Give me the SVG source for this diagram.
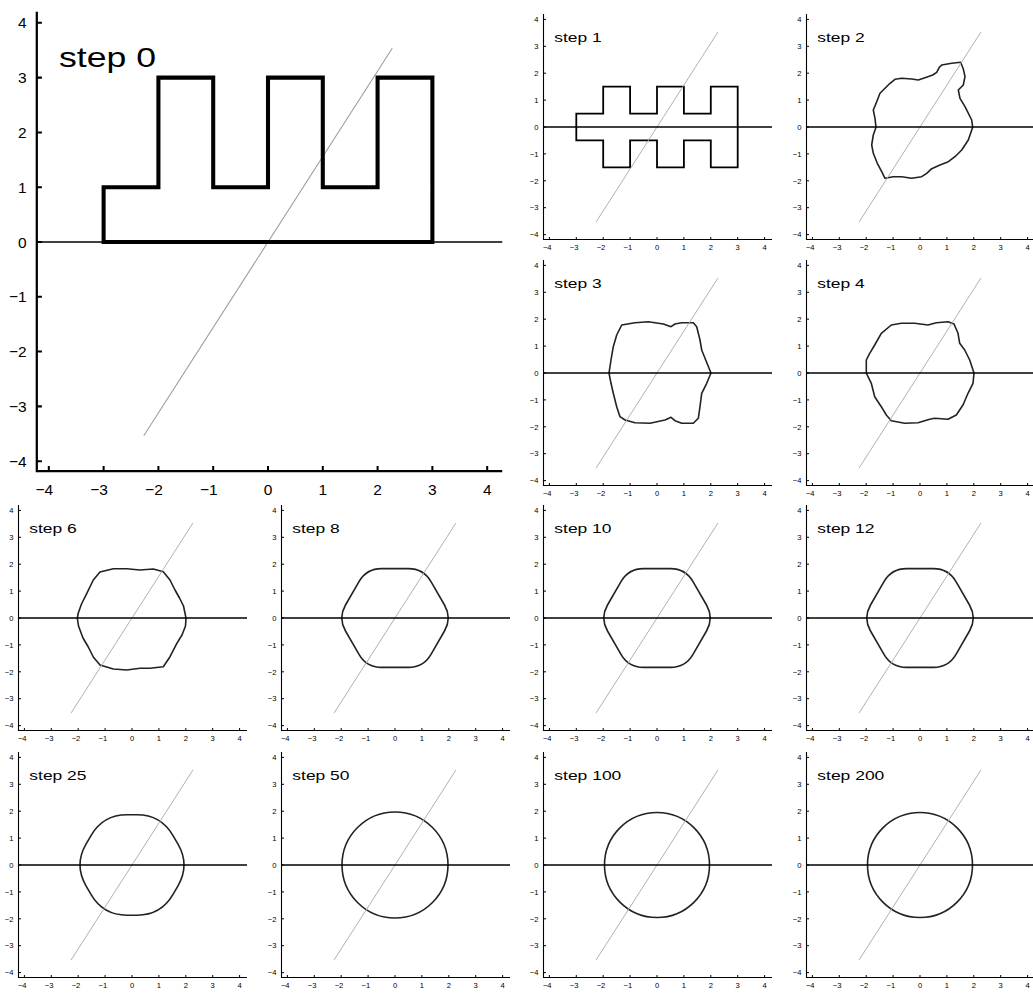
<svg xmlns="http://www.w3.org/2000/svg" xmlns:xlink="http://www.w3.org/1999/xlink" width="1033" height="994" viewBox="0 0 1033 994">
<style>
.ax{fill:none;stroke:#000;stroke-width:1.1}
.tk{fill:none;stroke:#000;stroke-width:1}
.hl{stroke:#000;stroke-width:1.6}
.dg{stroke:#a8a8a8;stroke-width:0.9}
.hlb{stroke:#000;stroke-width:0.65}
.dgb{stroke:#999;stroke-width:0.5}
.sh{fill:none;stroke:#222;stroke-width:1.6;stroke-linejoin:round}
.sq{fill:none;stroke:#000;stroke-width:1.8;stroke-linejoin:miter}
.sqb{fill:none;stroke:#000;stroke-width:2;stroke-linejoin:miter}
.yl,.xl,.lab{font-family:"Liberation Sans",Arial,sans-serif;fill:#000}
.yl{font-size:7.6px;text-anchor:end}
.xl{font-size:7.6px;text-anchor:middle}
.lab{font-size:13.5px}
</style>
<defs>
<g id="axes">
<path class="ax" d="M-113.5,-113V112.5H115"/>
<path class="tk" d="M-113.5,-107.6h2.5M-113.5,-80.7h2.5M-113.5,-53.8h2.5M-113.5,-26.9h2.5M-113.5,0h2.5M-113.5,26.9h2.5M-113.5,53.8h2.5M-113.5,80.7h2.5M-113.5,107.6h2.5M-107.6,112.5v-2.5M-80.7,112.5v-2.5M-53.8,112.5v-2.5M-26.9,112.5v-2.5M0,112.5v-2.5M26.9,112.5v-2.5M53.8,112.5v-2.5M80.7,112.5v-2.5M107.6,112.5v-2.5"/>
</g>
<g id="refl">
<line class="dg" x1="-61" y1="95.1" x2="61" y2="-95.1"/>
<line class="hl" x1="-113.5" y1="0" x2="115" y2="0"/>
</g>
<path id="hex" d="M49.5,13Q57,0 49.5,-13L36,-36.4Q28.5,-49.4 13.5,-49.4L-13.5,-49.4Q-28.5,-49.4 -36,-36.4L-49.5,-13Q-57,0 -49.5,13L-36,36.4Q-28.5,49.4 -13.5,49.4L13.5,49.4Q28.5,49.4 36,36.4Z"/>
</defs>

<g id="step0" transform="translate(268,242) scale(2.037)">
<use href="#axes"/>
<text class="yl"><tspan x="-118.5" y="-104.9">4</tspan><tspan x="-118.5" y="-78">3</tspan><tspan x="-118.5" y="-51.1">2</tspan><tspan x="-118.5" y="-24.2">1</tspan><tspan x="-118.5" y="2.7">0</tspan><tspan x="-118.5" y="29.6">−1</tspan><tspan x="-118.5" y="56.5">−2</tspan><tspan x="-118.5" y="83.4">−3</tspan><tspan x="-118.5" y="110.3">−4</tspan></text>
<text class="xl" y="124"><tspan x="-109.8">−4</tspan><tspan x="-82.9">−3</tspan><tspan x="-56">−2</tspan><tspan x="-29.1">−1</tspan><tspan x="0">0</tspan><tspan x="26.9">1</tspan><tspan x="53.8">2</tspan><tspan x="80.7">3</tspan><tspan x="107.6">4</tspan></text>
<text class="lab" x="-102.6" y="-85.9" textLength="47.6" lengthAdjust="spacingAndGlyphs">step 0</text>
<line class="dgb" x1="-61" y1="95.1" x2="61" y2="-95.1"/>
<line class="hlb" x1="-113.5" y1="0" x2="115" y2="0"/>
<path class="sqb" d="M-80.7,0V-26.9H-53.8V-80.7H-26.9V-26.9H0V-80.7H26.9V-26.9H53.8V-80.7H80.7V0Z"/>
</g>

<g id="step1" transform="translate(657,127)">
<use href="#axes"/>
<text class="yl"><tspan x="-118.5" y="-104.9">4</tspan><tspan x="-118.5" y="-78">3</tspan><tspan x="-118.5" y="-51.1">2</tspan><tspan x="-118.5" y="-24.2">1</tspan><tspan x="-118.5" y="2.7">0</tspan><tspan x="-118.5" y="29.6">−1</tspan><tspan x="-118.5" y="56.5">−2</tspan><tspan x="-118.5" y="83.4">−3</tspan><tspan x="-118.5" y="110.3">−4</tspan></text>
<text class="xl" y="123"><tspan x="-109.8">−4</tspan><tspan x="-82.9">−3</tspan><tspan x="-56">−2</tspan><tspan x="-29.1">−1</tspan><tspan x="0">0</tspan><tspan x="26.9">1</tspan><tspan x="53.8">2</tspan><tspan x="80.7">3</tspan><tspan x="107.6">4</tspan></text>
<text class="lab" x="-102.7" y="-85.3" textLength="47.4" lengthAdjust="spacingAndGlyphs">step 1</text>
<path class="sq" d="M-80.7,-13.45H-53.8V-40.35H-26.9V-13.45H0V-40.35H26.9V-13.45H53.8V-40.35H80.7V40.35H53.8V13.45H26.9V40.35H0V13.45H-26.9V40.35H-53.8V13.45H-80.7Z"/>
<use href="#refl"/>
</g>

<g id="step2" transform="translate(920,127)">
<use href="#axes"/>
<text class="yl"><tspan x="-118.5" y="-104.9">4</tspan><tspan x="-118.5" y="-78">3</tspan><tspan x="-118.5" y="-51.1">2</tspan><tspan x="-118.5" y="-24.2">1</tspan><tspan x="-118.5" y="2.7">0</tspan><tspan x="-118.5" y="29.6">−1</tspan><tspan x="-118.5" y="56.5">−2</tspan><tspan x="-118.5" y="83.4">−3</tspan><tspan x="-118.5" y="110.3">−4</tspan></text>
<text class="xl" y="123"><tspan x="-109.8">−4</tspan><tspan x="-82.9">−3</tspan><tspan x="-56">−2</tspan><tspan x="-29.1">−1</tspan><tspan x="0">0</tspan><tspan x="26.9">1</tspan><tspan x="53.8">2</tspan><tspan x="80.7">3</tspan><tspan x="107.6">4</tspan></text>
<text class="lab" x="-102.7" y="-85.3" textLength="47.4" lengthAdjust="spacingAndGlyphs">step 2</text>
<polygon class="sh" points="40.7,-64.7 31.7,-63.7 21.7,-62 19.3,-59.7 16.7,-54.7 12.7,-52 5,-49.3 -1.7,-47 -8.3,-48 -18.3,-48.7 -25,-47.7 -30,-43.7 -35,-38.7 -40,-33.7 -43.3,-25.3 -46.7,-17 -45,-8.7 -44,0.3 -46.7,8 -48.3,18 -46.7,26.3 -42.7,36.3 -38.3,44.7 -35,51.3 -26.7,49.7 -18.3,49.7 -8.3,51.3 1.7,49.7 6.7,46.3 11.7,41.7 20,38 28.3,34.7 35,29.7 41.7,23 48.3,13 52.7,0.3 51.7,-7 45,-20.3 40,-28.7 38.3,-37 43.3,-42 45,-50.3 43.3,-58"/>
<use href="#refl"/>
</g>

<g id="step3" transform="translate(657,373)">
<use href="#axes"/>
<text class="yl"><tspan x="-118.5" y="-104.9">4</tspan><tspan x="-118.5" y="-78">3</tspan><tspan x="-118.5" y="-51.1">2</tspan><tspan x="-118.5" y="-24.2">1</tspan><tspan x="-118.5" y="2.7">0</tspan><tspan x="-118.5" y="29.6">−1</tspan><tspan x="-118.5" y="56.5">−2</tspan><tspan x="-118.5" y="83.4">−3</tspan><tspan x="-118.5" y="110.3">−4</tspan></text>
<text class="xl" y="123"><tspan x="-109.8">−4</tspan><tspan x="-82.9">−3</tspan><tspan x="-56">−2</tspan><tspan x="-29.1">−1</tspan><tspan x="0">0</tspan><tspan x="26.9">1</tspan><tspan x="53.8">2</tspan><tspan x="80.7">3</tspan><tspan x="107.6">4</tspan></text>
<text class="lab" x="-102.7" y="-85.3" textLength="47.4" lengthAdjust="spacingAndGlyphs">step 3</text>
<polygon class="sh" points="-35.3,-48 -22,-50.3 -8.7,-51.3 6.3,-49 14,-46.3 18,-49 24.7,-50.3 36.3,-50.3 39.7,-46.3 43,-33 44.7,-23 48.7,-13 54,0 49.7,10.3 44.7,20.3 43,33.7 41.3,45.3 36.3,50.3 24.7,50.3 18,47.7 14,44.3 8,47 -7,50.3 -22,49.7 -32,47 -37,43.7 -40.3,33.7 -43.7,20.3 -46,10.3 -48,0 -46,-13 -43.7,-26.3 -40.3,-38"/>
<use href="#refl"/>
</g>

<g id="step4" transform="translate(920,373)">
<use href="#axes"/>
<text class="yl"><tspan x="-118.5" y="-104.9">4</tspan><tspan x="-118.5" y="-78">3</tspan><tspan x="-118.5" y="-51.1">2</tspan><tspan x="-118.5" y="-24.2">1</tspan><tspan x="-118.5" y="2.7">0</tspan><tspan x="-118.5" y="29.6">−1</tspan><tspan x="-118.5" y="56.5">−2</tspan><tspan x="-118.5" y="83.4">−3</tspan><tspan x="-118.5" y="110.3">−4</tspan></text>
<text class="xl" y="123"><tspan x="-109.8">−4</tspan><tspan x="-82.9">−3</tspan><tspan x="-56">−2</tspan><tspan x="-29.1">−1</tspan><tspan x="0">0</tspan><tspan x="26.9">1</tspan><tspan x="53.8">2</tspan><tspan x="80.7">3</tspan><tspan x="107.6">4</tspan></text>
<text class="lab" x="-102.7" y="-85.3" textLength="47.4" lengthAdjust="spacingAndGlyphs">step 4</text>
<polygon class="sh" points="-28.7,-48 -18.7,-49.7 -5.3,-49.7 8,-48 16.3,-50.3 28,-51.3 34,-49 38,-39.7 39.7,-29.7 44.7,-23 49.7,-13 54,0 53,10.3 48,20.3 43,32 36.3,42 28,46.3 14.7,45.3 9.7,46.3 -2,49.7 -15.3,50.3 -28.7,47.7 -33.7,42 -38.7,33.7 -45.3,23.7 -48.7,10.3 -53.7,0 -53.7,-13 -50.3,-19.7 -45.3,-28 -38.7,-39.7"/>
<use href="#refl"/>
</g>

<g id="step6" transform="translate(132,618)">
<use href="#axes"/>
<text class="yl"><tspan x="-118.5" y="-104.9">4</tspan><tspan x="-118.5" y="-78">3</tspan><tspan x="-118.5" y="-51.1">2</tspan><tspan x="-118.5" y="-24.2">1</tspan><tspan x="-118.5" y="2.7">0</tspan><tspan x="-118.5" y="29.6">−1</tspan><tspan x="-118.5" y="56.5">−2</tspan><tspan x="-118.5" y="83.4">−3</tspan><tspan x="-118.5" y="110.3">−4</tspan></text>
<text class="xl" y="123"><tspan x="-109.8">−4</tspan><tspan x="-82.9">−3</tspan><tspan x="-56">−2</tspan><tspan x="-29.1">−1</tspan><tspan x="0">0</tspan><tspan x="26.9">1</tspan><tspan x="53.8">2</tspan><tspan x="80.7">3</tspan><tspan x="107.6">4</tspan></text>
<text class="lab" x="-102.7" y="-85.3" textLength="47.4" lengthAdjust="spacingAndGlyphs">step 6</text>
<polygon class="sh" points="54,0 51.5,-12 47.5,-20 43,-28 38,-38 31.3,-46.3 21.3,-49 8,-48 -5.3,-49.3 -18.7,-49.3 -32,-46 -38.7,-38 -45.3,-24.3 -50.5,-14 -53.7,-5 -54.7,0 -53.5,8 -49,20 -43.7,29 -38.7,39 -32,47 -18.7,51 -5.3,52 8,50.3 18,50.3 31.3,48.7 38,38.7 44.7,25.7 50,17 53.5,8"/>
<use href="#refl"/>
</g>

<g id="step8" transform="translate(395,618)">
<use href="#axes"/>
<text class="yl"><tspan x="-118.5" y="-104.9">4</tspan><tspan x="-118.5" y="-78">3</tspan><tspan x="-118.5" y="-51.1">2</tspan><tspan x="-118.5" y="-24.2">1</tspan><tspan x="-118.5" y="2.7">0</tspan><tspan x="-118.5" y="29.6">−1</tspan><tspan x="-118.5" y="56.5">−2</tspan><tspan x="-118.5" y="83.4">−3</tspan><tspan x="-118.5" y="110.3">−4</tspan></text>
<text class="xl" y="123"><tspan x="-109.8">−4</tspan><tspan x="-82.9">−3</tspan><tspan x="-56">−2</tspan><tspan x="-29.1">−1</tspan><tspan x="0">0</tspan><tspan x="26.9">1</tspan><tspan x="53.8">2</tspan><tspan x="80.7">3</tspan><tspan x="107.6">4</tspan></text>
<text class="lab" x="-102.7" y="-85.3" textLength="47.4" lengthAdjust="spacingAndGlyphs">step 8</text>
<use href="#hex" class="sh"/>
<use href="#refl"/>
</g>

<g id="step10" transform="translate(657,618)">
<use href="#axes"/>
<text class="yl"><tspan x="-118.5" y="-104.9">4</tspan><tspan x="-118.5" y="-78">3</tspan><tspan x="-118.5" y="-51.1">2</tspan><tspan x="-118.5" y="-24.2">1</tspan><tspan x="-118.5" y="2.7">0</tspan><tspan x="-118.5" y="29.6">−1</tspan><tspan x="-118.5" y="56.5">−2</tspan><tspan x="-118.5" y="83.4">−3</tspan><tspan x="-118.5" y="110.3">−4</tspan></text>
<text class="xl" y="123"><tspan x="-109.8">−4</tspan><tspan x="-82.9">−3</tspan><tspan x="-56">−2</tspan><tspan x="-29.1">−1</tspan><tspan x="0">0</tspan><tspan x="26.9">1</tspan><tspan x="53.8">2</tspan><tspan x="80.7">3</tspan><tspan x="107.6">4</tspan></text>
<text class="lab" x="-102.7" y="-85.3" textLength="57.2" lengthAdjust="spacingAndGlyphs">step 10</text>
<use href="#hex" class="sh"/>
<use href="#refl"/>
</g>

<g id="step12" transform="translate(920,618)">
<use href="#axes"/>
<text class="yl"><tspan x="-118.5" y="-104.9">4</tspan><tspan x="-118.5" y="-78">3</tspan><tspan x="-118.5" y="-51.1">2</tspan><tspan x="-118.5" y="-24.2">1</tspan><tspan x="-118.5" y="2.7">0</tspan><tspan x="-118.5" y="29.6">−1</tspan><tspan x="-118.5" y="56.5">−2</tspan><tspan x="-118.5" y="83.4">−3</tspan><tspan x="-118.5" y="110.3">−4</tspan></text>
<text class="xl" y="123"><tspan x="-109.8">−4</tspan><tspan x="-82.9">−3</tspan><tspan x="-56">−2</tspan><tspan x="-29.1">−1</tspan><tspan x="0">0</tspan><tspan x="26.9">1</tspan><tspan x="53.8">2</tspan><tspan x="80.7">3</tspan><tspan x="107.6">4</tspan></text>
<text class="lab" x="-102.7" y="-85.3" textLength="57.2" lengthAdjust="spacingAndGlyphs">step 12</text>
<use href="#hex" class="sh"/>
<use href="#refl"/>
</g>

<g id="step25" transform="translate(132,865)">
<use href="#axes"/>
<text class="yl"><tspan x="-118.5" y="-104.9">4</tspan><tspan x="-118.5" y="-78">3</tspan><tspan x="-118.5" y="-51.1">2</tspan><tspan x="-118.5" y="-24.2">1</tspan><tspan x="-118.5" y="2.7">0</tspan><tspan x="-118.5" y="29.6">−1</tspan><tspan x="-118.5" y="56.5">−2</tspan><tspan x="-118.5" y="83.4">−3</tspan><tspan x="-118.5" y="110.3">−4</tspan></text>
<text class="xl" y="123"><tspan x="-109.8">−4</tspan><tspan x="-82.9">−3</tspan><tspan x="-56">−2</tspan><tspan x="-29.1">−1</tspan><tspan x="0">0</tspan><tspan x="26.9">1</tspan><tspan x="53.8">2</tspan><tspan x="80.7">3</tspan><tspan x="107.6">4</tspan></text>
<text class="lab" x="-102.7" y="-85.3" textLength="57.2" lengthAdjust="spacingAndGlyphs">step 25</text>
<path class="sh" d="M46,20.8Q58,0 46,-20.8L41,-29.4Q29,-50.2 5,-50.2L-5,-50.2Q-29,-50.2 -41,-29.4L-46,-20.8Q-58,0 -46,20.8L-41,29.4Q-29,50.2 -5,50.2L5,50.2Q29,50.2 41,29.4Z"/>
<use href="#refl"/>
</g>

<g id="step50" transform="translate(395,865)">
<use href="#axes"/>
<text class="yl"><tspan x="-118.5" y="-104.9">4</tspan><tspan x="-118.5" y="-78">3</tspan><tspan x="-118.5" y="-51.1">2</tspan><tspan x="-118.5" y="-24.2">1</tspan><tspan x="-118.5" y="2.7">0</tspan><tspan x="-118.5" y="29.6">−1</tspan><tspan x="-118.5" y="56.5">−2</tspan><tspan x="-118.5" y="83.4">−3</tspan><tspan x="-118.5" y="110.3">−4</tspan></text>
<text class="xl" y="123"><tspan x="-109.8">−4</tspan><tspan x="-82.9">−3</tspan><tspan x="-56">−2</tspan><tspan x="-29.1">−1</tspan><tspan x="0">0</tspan><tspan x="26.9">1</tspan><tspan x="53.8">2</tspan><tspan x="80.7">3</tspan><tspan x="107.6">4</tspan></text>
<text class="lab" x="-102.7" y="-85.3" textLength="57.2" lengthAdjust="spacingAndGlyphs">step 50</text>
<circle class="sh" cx="0" cy="0" r="53"/>
<use href="#refl"/>
</g>

<g id="step100" transform="translate(657,865)">
<use href="#axes"/>
<text class="yl"><tspan x="-118.5" y="-104.9">4</tspan><tspan x="-118.5" y="-78">3</tspan><tspan x="-118.5" y="-51.1">2</tspan><tspan x="-118.5" y="-24.2">1</tspan><tspan x="-118.5" y="2.7">0</tspan><tspan x="-118.5" y="29.6">−1</tspan><tspan x="-118.5" y="56.5">−2</tspan><tspan x="-118.5" y="83.4">−3</tspan><tspan x="-118.5" y="110.3">−4</tspan></text>
<text class="xl" y="123"><tspan x="-109.8">−4</tspan><tspan x="-82.9">−3</tspan><tspan x="-56">−2</tspan><tspan x="-29.1">−1</tspan><tspan x="0">0</tspan><tspan x="26.9">1</tspan><tspan x="53.8">2</tspan><tspan x="80.7">3</tspan><tspan x="107.6">4</tspan></text>
<text class="lab" x="-102.7" y="-85.3" textLength="67" lengthAdjust="spacingAndGlyphs">step 100</text>
<circle class="sh" cx="0" cy="0" r="52.5"/>
<use href="#refl"/>
</g>

<g id="step200" transform="translate(920,865)">
<use href="#axes"/>
<text class="yl"><tspan x="-118.5" y="-104.9">4</tspan><tspan x="-118.5" y="-78">3</tspan><tspan x="-118.5" y="-51.1">2</tspan><tspan x="-118.5" y="-24.2">1</tspan><tspan x="-118.5" y="2.7">0</tspan><tspan x="-118.5" y="29.6">−1</tspan><tspan x="-118.5" y="56.5">−2</tspan><tspan x="-118.5" y="83.4">−3</tspan><tspan x="-118.5" y="110.3">−4</tspan></text>
<text class="xl" y="123"><tspan x="-109.8">−4</tspan><tspan x="-82.9">−3</tspan><tspan x="-56">−2</tspan><tspan x="-29.1">−1</tspan><tspan x="0">0</tspan><tspan x="26.9">1</tspan><tspan x="53.8">2</tspan><tspan x="80.7">3</tspan><tspan x="107.6">4</tspan></text>
<text class="lab" x="-102.7" y="-85.3" textLength="67" lengthAdjust="spacingAndGlyphs">step 200</text>
<circle class="sh" cx="0" cy="0" r="52.5"/>
<use href="#refl"/>
</g>
</svg>
